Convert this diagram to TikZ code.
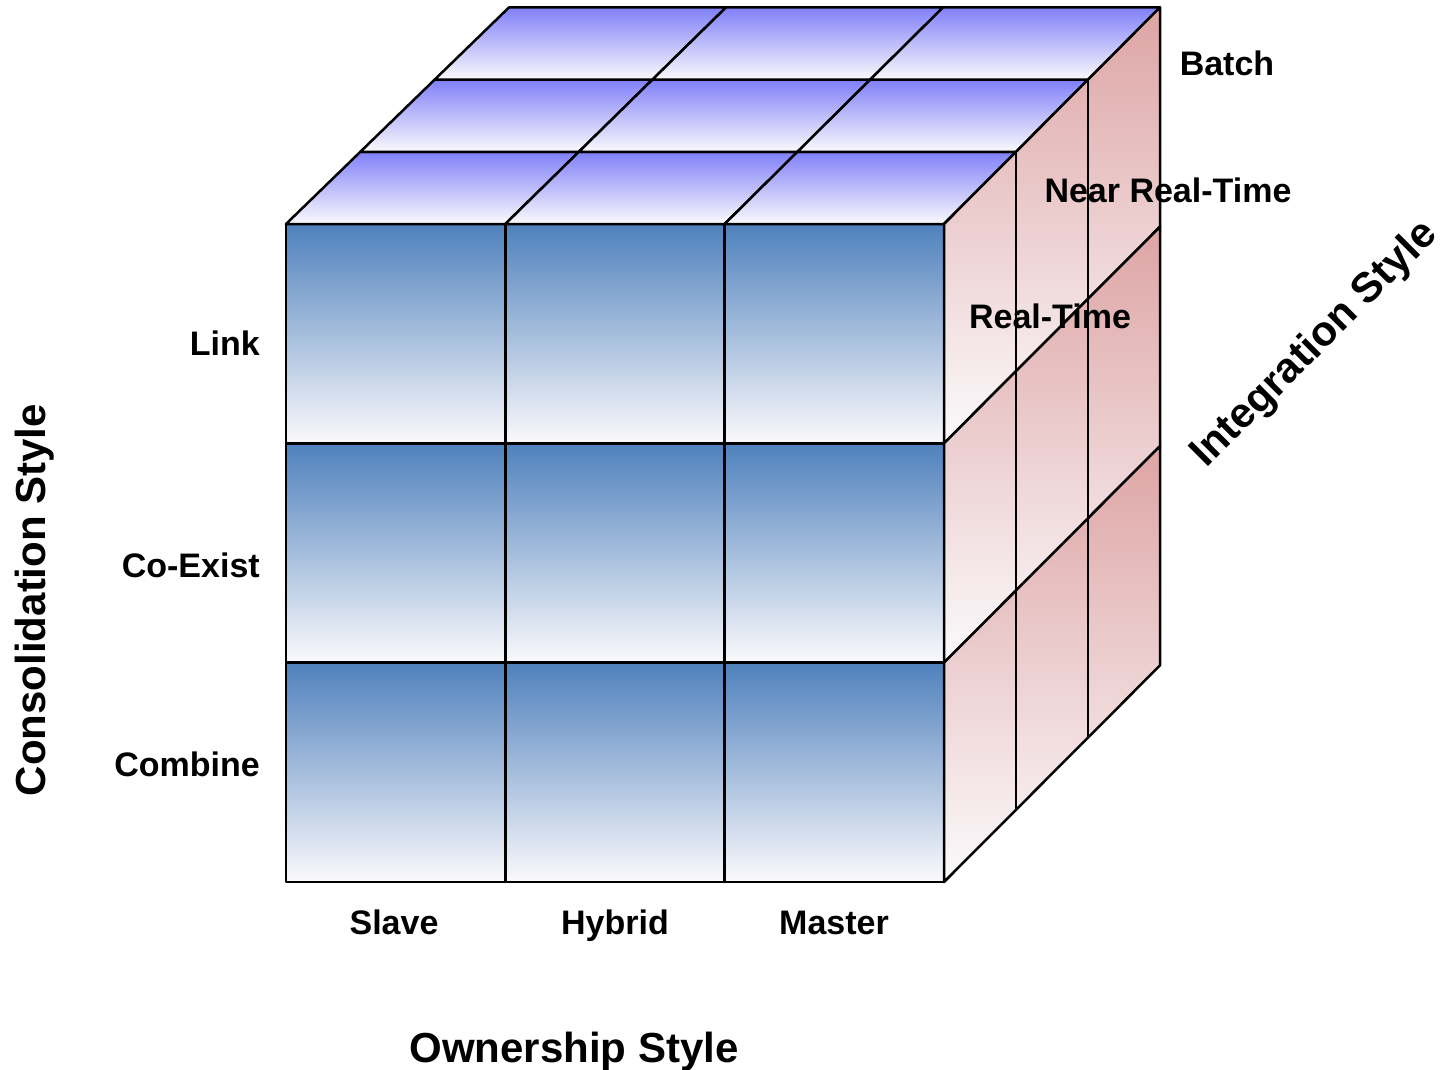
\documentclass[tikz,border=0pt]{standalone}
\usepackage{fontspec}
\setmainfont{Liberation Sans}
\definecolor{frontblue}{RGB}{79,129,189}
\definecolor{topblue}{RGB}{128,128,250}
\definecolor{sidepink}{RGB}{222,164,164}
\definecolor{paleend}{RGB}{251,250,252}
\newcommand{\cubePx}[2]{286+219.33*(#1)+(#2)*(223-2.33*(#1))/3}
\begin{document}
\begin{tikzpicture}[x=1pt,y=-1pt,line width=2.5pt,line join=round,
  lab/.style={font=\fontsize{34}{40}\selectfont\bfseries,inner sep=0pt,anchor=base},
  big/.style={font=\fontsize{42}{48}\selectfont\bfseries,inner sep=0pt},
  fronttile/.style={top color=frontblue,middle color=frontblue!45!paleend,bottom color=paleend,draw=black},
  toptile/.style={top color=topblue,bottom color=paleend,draw=black},
  sidetile/.style={top color=sidepink,bottom color=paleend,draw=black}]
\useasboundingbox (0,0) rectangle (1443,1070);
\def\W{219.33}
\def\DY{72.2}
% front face
\foreach \i in {0,1,2}{
  \foreach \j in {0,1,2}{
    \draw[fronttile] ({286+\i*\W},{224+\j*\W}) rectangle ++(\W,\W);
  }
}
% top face
\foreach \k in {0,1,2}{
  \foreach \i in {0,1,2}{
    \draw[toptile] ({\cubePx{\i}{\k}},{224-\k*\DY}) -- ({\cubePx{\i+1}{\k}},{224-\k*\DY})
      -- ({\cubePx{\i+1}{\k+1}},{224-(\k+1)*\DY}) -- ({\cubePx{\i}{\k+1}},{224-(\k+1)*\DY}) -- cycle;
  }
}
% right face: one shaded band per row, depth lines over it
\foreach \j in {0,1,2}{
  \draw[sidetile] (944,{224+\j*\W}) -- (1160,{224+\j*\W-3*\DY}) -- (1160,{224+(\j+1)*\W-3*\DY}) -- (944,{224+(\j+1)*\W}) -- cycle;
}
\foreach \k in {1,2}{
  \draw ({944+72*\k},{224-\k*\DY}) -- ({944+72*\k},{882-\k*\DY});
}
% labels
\node[lab,anchor=base east] (link) at (261,355) {Link};
\node[lab,anchor=base east] (coexist) at (261,577) {Co-Exist};
\node[lab,anchor=base east] (combine) at (261,776) {Combine};
\node[lab] (slave) at (394,934) {Slave};
\node[lab] (hybrid) at (615,934) {Hybrid};
\node[lab] (master) at (834,934) {Master};
\node[lab] (batch) at (1227,76) {Batch};
\node[lab] (nrt) at (1168,202) {Near Real-Time};
\node[lab] (rt) at (1050,328) {Real-Time};
\node[big,anchor=base] (own) at (574,1062) {Ownership Style};
\node[big,rotate=90] (cons) at (35,600) {Consolidation Style};
\node[big,rotate=45] (integ) at (1315,345) {Integration Style};
\end{tikzpicture}
\end{document}
